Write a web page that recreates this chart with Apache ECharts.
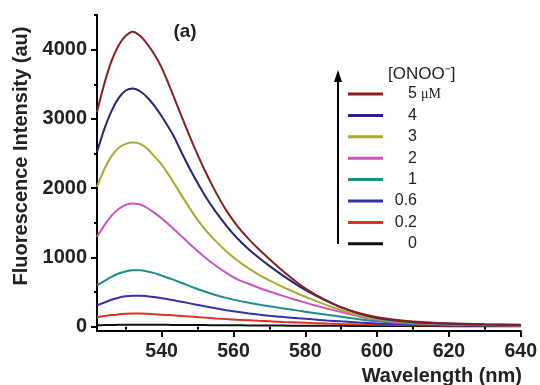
<!DOCTYPE html>
<html>
<head>
<meta charset="utf-8">
<script src="https://cdn.jsdelivr.net/npm/echarts@6/dist/echarts.min.js"></script>
<style>html,body{margin:0;padding:0;background:#fff}#c{width:540px;height:385px}</style>
</head>
<body>
<div id="c"></div>
<script>
const wavelengths = [522,524,526,528,530,532,534,536,538,540,543,546,549,552,555,558,561,564,567,570,574,578,582,586,590,595,600,605,610,620,630,640];
const conc5   = [3100,3500,3830,4060,4200,4260,4200,4080,3930,3740,3370,2980,2605,2260,1951,1681,1462,1280,1122,978,794,630,490,378,282,195,140,102,77,51,37,30];
const conc4   = [2520,2850,3110,3300,3410,3440,3400,3310,3190,3040,2785,2470,2170,1900,1666,1462,1282,1132,1000,880,732,596,476,372,280,192,128,92,68,45,33,27];
const conc3   = [2020,2270,2460,2580,2640,2660,2640,2570,2460,2340,2110,1860,1620,1410,1240,1090,960,850,755,670,570,478,392,314,240,165,112,80,60,40,30,24];
const conc2   = [1300,1460,1600,1700,1760,1780,1765,1715,1645,1565,1430,1285,1140,1005,885,780,690,625,565,510,443,380,320,264,212,150,100,70,52,35,27,22];
const conc1   = [600,660,720,770,800,815,815,800,775,740,685,625,565,510,460,418,382,350,322,297,265,234,204,174,145,110,80,58,44,30,24,19];
const conc06  = [310,350,390,420,440,450,450,442,430,414,388,358,327,297,268,241,217,196,177,160,141,124,108,93,79,63,49,38,31,23,19,16];
const conc02  = [140,155,170,180,188,192,192,188,182,176,166,155,144,133,122,112,103,95,87,80,70,62,54,47,41,35,30,27,24,20,18,16];
const conc0   = [22,25,27,29,30,31,31,30,30,29,28,27,26,25,24,23,22,21,20,19,18,17,16,15,14,13,12,11,11,10,10,9];
const seriesNames = ['0','0.2','0.6','1','2','3','4','5 μM'];
const seriesValues = [conc0, conc02, conc06, conc1, conc2, conc3, conc4, conc5];
const seriesColors = ['#111111','#dd3322','#3333a6','#1f8c88','#cc55bb','#aaaa33','#25257c','#8a1f1f'];
const xTickLabels = [540,560,580,600,620,640];
const xMinorTicks = [530,550,570,590,610,630];
const yTickLabels = [0,1000,2000,3000,4000];
const yMinorTicks = [500,1500,2500,3500,4500];

const font = '"Liberation Sans", Arial, sans-serif';
const serif = '"Liberation Serif", "Times New Roman", serif';
const chart = echarts.init(document.getElementById('c'), null, {renderer: 'canvas'});

const series = seriesNames.map((name, i) => ({
  name: name,
  type: 'line',
  smooth: 0.3,
  showSymbol: false,
  symbol: 'none',
  xAxisIndex: 0,
  yAxisIndex: 0,
  lineStyle: {color: seriesColors[i], width: 2},
  itemStyle: {color: seriesColors[i]},
  data: wavelengths.map((w, j) => [w, seriesValues[i][j]])
}));

// legend labels: numbers right-aligned to a common edge
const measureCtx = document.createElement('canvas').getContext('2d');
measureCtx.font = '16px ' + font;
const legendRich = {u: {fontSize: 14, fontFamily: serif, color: '#222', lineHeight: 16, padding: [0, 0, 0, 4]}};
const legendKey = {};
seriesNames.forEach((name, i) => {
  const num = name.split(' ')[0];
  const w = measureCtx.measureText(num).width;
  legendRich['n' + i] = {fontSize: 16, fontFamily: font, color: '#222', lineHeight: 16, padding: [0, 0, 0, Math.max(0, 29 - w)]};
  legendKey[name] = i;
});

const axisLineStyle = {color: '#000', width: 2};

chart.setOption({
  animation: false,
  backgroundColor: '#fff',
  grid: {left: 97, right: 19, top: 15, bottom: 54, containLabel: false},
  xAxis: [{
    type: 'value', min: 522, max: 640,
    axisLine: {show: true, onZero: false, lineStyle: axisLineStyle},
    axisTick: {show: true, length: 6, inside: false, customValues: xTickLabels, lineStyle: {color: '#000', width: 2}},
    axisLabel: {customValues: xTickLabels, margin: 11, color: '#222', fontSize: 19.5, fontWeight: 'bold', fontFamily: font,
      formatter: v => String(v)},
    splitLine: {show: false}
  }, {
    type: 'value', min: 522, max: 640, position: 'bottom',
    axisLine: {show: false},
    axisTick: {show: true, length: 3, customValues: xMinorTicks, lineStyle: {color: '#000', width: 2}},
    axisLabel: {show: false},
    splitLine: {show: false}
  }],
  yAxis: [{
    type: 'value', min: -60, max: 4500,
    axisLine: {show: true, onZero: false, lineStyle: axisLineStyle},
    axisTick: {show: true, length: 6, customValues: yTickLabels, lineStyle: {color: '#000', width: 2}},
    axisLabel: {customValues: yTickLabels, margin: 10, color: '#222', fontSize: 20, fontWeight: 'bold', fontFamily: font,
      formatter: v => String(v)},
    splitLine: {show: false}
  }, {
    type: 'value', min: -60, max: 4500, position: 'left',
    axisLine: {show: false},
    axisTick: {show: true, length: 3, customValues: yMinorTicks, lineStyle: {color: '#000', width: 2}},
    axisLabel: {show: false},
    splitLine: {show: false}
  }],
  legend: {
    show: true,
    orient: 'vertical',
    left: 348,
    top: 86,
    padding: 0,
    data: seriesNames.slice().reverse(),
    icon: 'rect',
    itemWidth: 35,
    itemHeight: 3,
    itemGap: 5.4,
    selectedMode: false,
    textStyle: {fontSize: 16, fontFamily: font, color: '#222', lineHeight: 16, rich: legendRich},
    formatter: function (name) {
      const i = legendKey[name];
      const parts = name.split(' ');
      let s = '{n' + i + '|' + parts[0] + '}';
      if (parts.length > 1) s += '{u|' + parts[1] + '}';
      return s;
    }
  },
  graphic: [
    {type: 'text', x: 21, y: 156, rotation: Math.PI / 2,
      style: {text: 'Fluorescence Intensity (au)', fontSize: 20, fontWeight: 'bold', fontFamily: font, fill: '#222', align: 'center', verticalAlign: 'middle'}},
    {type: 'text', x: 522, y: 376,
      style: {text: 'Wavelength (nm)', fontSize: 20, fontWeight: 'bold', fontFamily: font, fill: '#222', align: 'right', verticalAlign: 'middle'}},
    {type: 'text', x: 185, y: 32,
      style: {text: '(a)', fontSize: 19, fontWeight: 'bold', fontFamily: font, fill: '#222', align: 'center', verticalAlign: 'middle'}},
    {type: 'text', x: 388, y: 74,
      style: {text: '[ONOO\u207B]', fontSize: 17, fontFamily: font, fill: '#222', align: 'left', verticalAlign: 'middle'}},
    {type: 'line', shape: {x1: 338, y1: 244, x2: 338, y2: 80}, style: {stroke: '#000', lineWidth: 2}},
    {type: 'polygon', shape: {points: [[338, 70], [334, 82], [342, 82]]}, style: {fill: '#000'}}
  ],
  series: series
});
</script>
</body>
</html>
